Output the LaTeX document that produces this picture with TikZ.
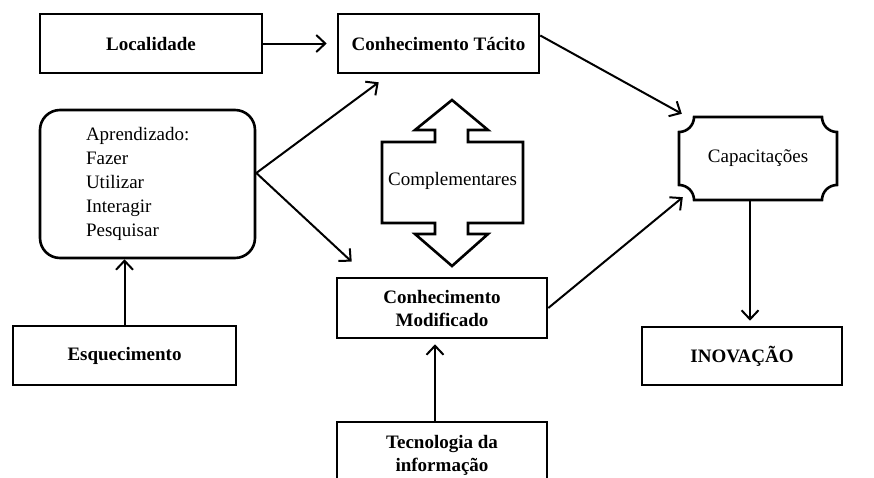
\documentclass[tikz,border=0pt]{standalone}
\usepackage{fontspec}
\setmainfont{Liberation Serif}
\usetikzlibrary{arrows.meta}

\begin{document}
\fontsize{19}{23}\selectfont
\begin{tikzpicture}[x=1pt, y=-1pt,
    caixa/.style={draw, line width=2.6pt, font=\bfseries, align=center, inner sep=0pt},
    seta/.style={-{Straight Barb[length=9pt, width=17pt]}, line width=2pt}]
    % 1. Limites da figura
    \useasboundingbox (0,0) rectangle (874,477);
    \clip (0,0) rectangle (874,477);

    % 2. Caixas retangulares
    \node[caixa, minimum width=222pt, minimum height=59pt] (loc) at (151,43.5) {Localidade};
    \node[caixa, minimum width=201pt, minimum height=59pt] (tacito) at (438.5,43.5) {Conhecimento Tácito};
    \node[caixa, minimum width=210pt, minimum height=60pt] (modif) at (442,308) {Conhecimento\\Modificado};
    \node[caixa, minimum width=210pt, minimum height=66pt] (tecno) at (442,455) {Tecnologia da\\informação};
    \node[caixa, minimum width=223pt, minimum height=59pt] (esq) at (124.5,355.5) {Esquecimento};
    \node[caixa, minimum width=200pt, minimum height=58pt] (inov) at (742,356) {INOVAÇÃO};

    % 3. Caixa arredondada do aprendizado
    \node[draw, line width=2.6pt, rounded corners=20pt, minimum width=215pt, minimum height=148pt,
        text width=123pt, align=left, font=\fontsize{19}{24}\selectfont] (aprend) at (147.5,184)
        {Aprendizado:\\Fazer\\Utilizar\\Interagir\\Pesquisar};

    % 4. Capacitações (cantos côncavos)
    \node[minimum width=158pt, minimum height=83pt] (capac) at (758,158.5) {Capacitações};
    \draw[line width=2.6pt] (694,117) -- (822,117) arc[start angle=180, end angle=270, radius=15pt]
        -- (837,185) arc[start angle=90, end angle=180, radius=15pt]
        -- (694,200) arc[start angle=0, end angle=90, radius=15pt]
        -- (679,132) arc[start angle=270, end angle=360, radius=15pt] -- cycle;

    % 5. Seta dupla: Complementares
    \node (comp) at (452.5,181) {Complementares};
    \draw[line width=2.6pt] (452,100) -- (488,130) -- (468,130) -- (468,142) -- (523,142)
        -- (523,223) -- (468,223) -- (468,234) -- (488,234) -- (452,266) -- (415,234)
        -- (435,234) -- (435,223) -- (382,223) -- (382,142) -- (435,142) -- (435,130)
        -- (415,130) -- cycle;

    % 6. Setas
    \draw[seta] (loc) -- ([xshift=-10pt]tacito.west);
    \draw[seta] ([yshift=11pt]aprend.east) -- ([xshift=42pt, yshift=-8pt]tacito.south west);
    \draw[seta] ([yshift=11pt]aprend.east) -- ([xshift=16pt, yshift=15pt]modif.north west);
    \draw[seta] (esq) -- (esq |- aprend.south);
    \draw[seta] ([xshift=-7pt]tecno.north) -- ([xshift=-7pt, yshift=-5pt]modif.south);
    \draw[seta] ([yshift=8pt]tacito.east) -- ([xshift=3pt, yshift=3pt]capac.north west);
    \draw[seta] (modif.east) -- ([xshift=4pt, yshift=3pt]capac.south west);
    \draw[seta] ([xshift=-8pt]capac.south) -- ([xshift=8pt, yshift=5pt]inov.north);
\end{tikzpicture}
\end{document}
